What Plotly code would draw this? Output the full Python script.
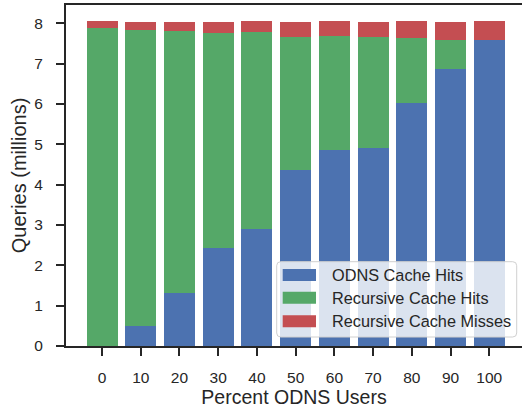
import plotly.graph_objects as go

# ---- data (millions of queries) ----
percent_users = [0, 10, 20, 30, 40, 50, 60, 70, 80, 90, 100]
odns_cache_hits = [0.0, 0.50, 1.31, 2.43, 2.90, 4.36, 4.86, 4.92, 6.03, 6.87, 7.59]
recursive_cache_hits = [7.885, 7.335, 6.50, 5.33, 4.89, 3.30, 2.83, 2.74, 1.61, 0.72, 0.0]
recursive_cache_misses = [0.175, 0.195, 0.22, 0.27, 0.27, 0.37, 0.37, 0.37, 0.42, 0.44, 0.47]
series_names = ["ODNS Cache Hits", "Recursive Cache Hits", "Recursive Cache Misses"]
series_colors = ["#4C72B0", "#55A868", "#C44E52"]
x_ticks = [0, 10, 20, 30, 40, 50, 60, 70, 80, 90, 100]
y_ticks = [0, 1, 2, 3, 4, 5, 6, 7, 8]

W, H = 522, 409
L, R, T, B = 66, 0, 5, 63
FONT = "Liberation Sans, Arial, sans-serif"
TXT = "#262626"

fig = go.Figure()
for name, vals, col in zip(series_names,
                           [odns_cache_hits, recursive_cache_hits, recursive_cache_misses],
                           series_colors):
    fig.add_trace(go.Bar(x=percent_users, y=vals, name=name, width=8,
                         marker=dict(color=col, line=dict(width=0)),
                         showlegend=False))

# pixel -> paper helpers
pw, ph = W - L - R, H - T - B
def px(xp):
    return (xp - L) / pw
def py(yp):
    return (H - B - yp) / ph

# manual legend (matplotlib style: wide swatches, rounded translucent box)
lx0, lx1, ly0, ly1 = 276.7, 516.7, 261.7, 337.0
r = 4
path = (f"M {px(lx0+r)},{py(ly0)} L {px(lx1-r)},{py(ly0)} "
        f"Q {px(lx1)},{py(ly0)} {px(lx1)},{py(ly0+r)} "
        f"L {px(lx1)},{py(ly1-r)} Q {px(lx1)},{py(ly1)} {px(lx1-r)},{py(ly1)} "
        f"L {px(lx0+r)},{py(ly1)} Q {px(lx0)},{py(ly1)} {px(lx0)},{py(ly1-r)} "
        f"L {px(lx0)},{py(ly0+r)} Q {px(lx0)},{py(ly0)} {px(lx0+r)},{py(ly0)} Z")
shapes = [dict(type="path", xref="paper", yref="paper", path=path,
               fillcolor="rgba(255,255,255,0.8)", line=dict(color="#d0d0d0", width=1),
               layer="above")]
annotations = []
row_centers = [275.0, 297.7, 321.3]
for name, col, yc in zip(series_names, series_colors, row_centers):
    shapes.append(dict(type="rect", xref="paper", yref="paper",
                       x0=px(282.7), x1=px(316.0), y0=py(yc - 6), y1=py(yc + 6),
                       fillcolor=col, line=dict(width=0), layer="above"))
    annotations.append(dict(xref="paper", yref="paper", x=px(329.5), y=py(yc),
                            xanchor="left", yanchor="middle", text=name,
                            showarrow=False, font=dict(family=FONT, size=16.3, color=TXT)))

fig.update_layout(
    width=W, height=H,
    margin=dict(l=L, r=R, t=T, b=B, pad=0),
    plot_bgcolor="white", paper_bgcolor="white",
    barmode="stack", bargap=0,
    font=dict(family=FONT, color=TXT),
    shapes=shapes, annotations=annotations,
    xaxis=dict(range=[-9.3, 108.44], tickmode="array", tickvals=x_ticks,
               ticktext=[str(v) for v in x_ticks],
               showgrid=False, zeroline=False,
               showline=True, linecolor=TXT, linewidth=2, mirror=True,
               ticks="outside", ticklen=8, tickwidth=1.6, tickcolor=TXT,
               tickfont=dict(family=FONT, size=15.5, color=TXT),
               ticklabelstandoff=8,
               title=dict(text="Percent ODNS Users", standoff=6,
                          font=dict(family=FONT, size=19.5, color=TXT))),
    yaxis=dict(range=[0, 8.455], tickmode="array", tickvals=y_ticks,
               showgrid=False, zeroline=False,
               showline=True, linecolor=TXT, linewidth=2, mirror=False,
               ticks="outside", ticklen=8, tickwidth=1.6, tickcolor=TXT,
               tickfont=dict(family=FONT, size=15.5, color=TXT),
               ticklabelstandoff=10,
               title=dict(text="Queries (millions)", standoff=2,
                          font=dict(family=FONT, size=20, color=TXT))),
)

fig.write_html("out.html")
